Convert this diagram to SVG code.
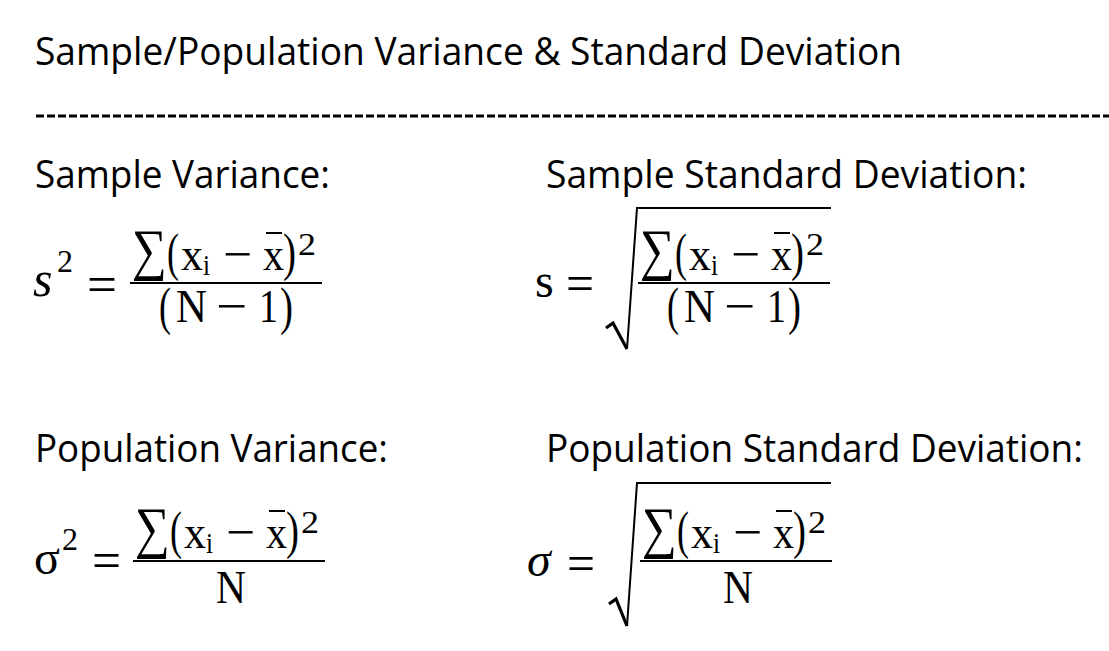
<svg xmlns="http://www.w3.org/2000/svg" xmlns:xlink="http://www.w3.org/1999/xlink" width="1109" height="651" viewBox="0 0 1109 651">
<style>
.lbl{font-family:"Open Sans","Noto Sans","Liberation Sans",sans-serif;font-size:34px;fill:#000}
.m{font-family:"Liberation Serif","DejaVu Serif",serif;font-size:46px;fill:#000}
.big{font-size:52px}
.sig{font-size:57px}
.op{font-size:50px}
.sm{font-size:30px}
.sup{font-size:32px}
.ln{stroke:#000;stroke-width:2;fill:none}
.rt{stroke:#000;fill:none;stroke-linejoin:miter}
</style>
<defs>
<g id="num">
<text class="m sig" x="0" y="-1" textLength="35" lengthAdjust="spacingAndGlyphs">∑</text>
<text class="m big" x="35" y="0" textLength="12" lengthAdjust="spacingAndGlyphs">(</text>
<text class="m" x="49" y="0" textLength="22" lengthAdjust="spacingAndGlyphs">x</text>
<text class="m sm" x="71" y="5" textLength="7" lengthAdjust="spacingAndGlyphs">i</text>
<text class="m op" x="91" y="1" textLength="29" lengthAdjust="spacingAndGlyphs">−</text>
<text class="m" x="131" y="0" textLength="21" lengthAdjust="spacingAndGlyphs">x</text>
<line class="ln" x1="134" y1="-37" x2="150" y2="-37"/>
<text class="m big" x="151" y="0" textLength="13" lengthAdjust="spacingAndGlyphs">)</text>
<text class="m sup" x="166" y="-15" textLength="18" lengthAdjust="spacingAndGlyphs">2</text>
<line class="ln" x1="-2" y1="13" x2="190" y2="13"/>
</g>
<g id="denN1">
<text class="m big" x="27" y="54" textLength="12" lengthAdjust="spacingAndGlyphs">(</text>
<text class="m" x="44" y="52" textLength="31" lengthAdjust="spacingAndGlyphs">N</text>
<text class="m op" x="84" y="53" textLength="31" lengthAdjust="spacingAndGlyphs">−</text>
<text class="m" x="127" y="52" textLength="19" lengthAdjust="spacingAndGlyphs">1</text>
<text class="m big" x="148" y="54" textLength="13" lengthAdjust="spacingAndGlyphs">)</text>
</g>
<g id="denN">
<text class="m" x="81" y="55" textLength="30" lengthAdjust="spacingAndGlyphs">N</text>
</g>
</defs>
<rect width="1109" height="651" fill="#fff"/>
<g id="title">
<text class="lbl" transform="translate(35,65) scale(1,1.14)" textLength="867" lengthAdjust="spacingAndGlyphs">Sample/Population Variance &amp; Standard Deviation</text>
<line x1="36" y1="116" x2="1109" y2="116" stroke="#000" stroke-width="2.8" stroke-dasharray="8 3"/>
</g>
<g id="sample-variance">
<text class="lbl" transform="translate(35,188) scale(1,1.14)" textLength="295" lengthAdjust="spacingAndGlyphs">Sample Variance:</text>
<text class="m" x="33" y="296" style="font-size:50px;font-style:italic">s</text>
<text class="m sup" x="57" y="272">2</text>
<text class="m" x="87" y="302" style="font-size:52px" textLength="30" lengthAdjust="spacingAndGlyphs">=</text>
<g transform="translate(132,270)"><use xlink:href="#num"/><use xlink:href="#denN1"/></g>
</g>
<g id="sample-sd">
<text class="lbl" transform="translate(546,188) scale(1,1.14)" textLength="481" lengthAdjust="spacingAndGlyphs">Sample Standard Deviation:</text>
<text class="m" x="535" y="297" style="font-size:48px">s</text>
<text class="m" x="566" y="301" style="font-size:52px" textLength="28" lengthAdjust="spacingAndGlyphs">=</text>
<path class="rt" d="M606,328 L613,323 L627,349" stroke-width="3.2"/>
<path class="rt" d="M627,349 L637,208 L831,208" stroke-width="2"/>
<g transform="translate(640,270)"><use xlink:href="#num"/><use xlink:href="#denN1"/></g>
</g>
<g id="population-variance">
<text class="lbl" transform="translate(35,462) scale(1,1.14)" textLength="353" lengthAdjust="spacingAndGlyphs">Population Variance:</text>
<text class="m" x="34" y="574" style="font-size:48px">σ</text>
<text class="m sup" x="62" y="550">2</text>
<text class="m" x="92" y="578" style="font-size:52px" textLength="29" lengthAdjust="spacingAndGlyphs">=</text>
<g transform="translate(135,548)"><use xlink:href="#num"/><use xlink:href="#denN"/></g>
</g>
<g id="population-sd">
<text class="lbl" transform="translate(546,462) scale(1,1.14)" textLength="537" lengthAdjust="spacingAndGlyphs">Population Standard Deviation:</text>
<text class="m" x="527" y="576" style="font-size:48px;font-style:italic">σ</text>
<text class="m" x="567" y="581" style="font-size:52px" textLength="28" lengthAdjust="spacingAndGlyphs">=</text>
<path class="rt" d="M609,604 L616,599 L627,626" stroke-width="3.2"/>
<path class="rt" d="M627,626 L637,483 L831,483" stroke-width="2"/>
<g transform="translate(642,548)"><use xlink:href="#num"/><use xlink:href="#denN"/></g>
</g>
</svg>
